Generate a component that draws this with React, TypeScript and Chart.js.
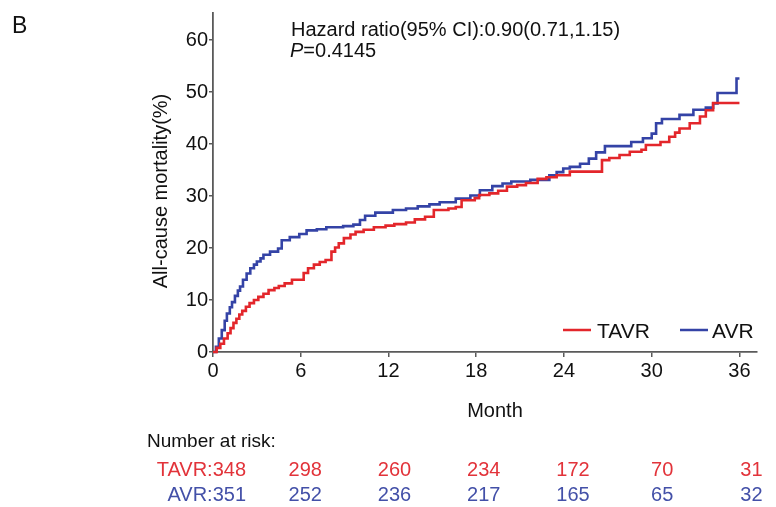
import React, { useEffect, useRef } from "react";
import { Chart, registerables } from "chart.js";

Chart.register(...registerables);

const FONT = '"Liberation Sans", Arial, Helvetica, sans-serif';

const seriesNames = ["TAVR", "AVR"];
const seriesColors = ["#e3262b", "#3443a6"];

const tavrMonths = [0, 0.25, 0.5, 0.75, 1.0, 1.2, 1.4, 1.6, 1.8, 2.0, 2.25, 2.5, 2.8, 3.1, 3.45, 3.8, 4.2, 4.5, 4.9, 5.4, 6.2, 6.5, 6.9, 7.3, 7.7, 8.1, 8.35, 8.6, 8.95, 9.4, 9.75, 10.3, 11.0, 11.8, 12.4, 13.2, 13.8, 14.5, 15.1, 16.1, 16.6, 17.0, 17.9, 18.2, 18.9, 19.5, 20.1, 20.8, 21.4, 22.2, 22.8, 23.5, 24.4, 26.6, 27.1, 27.8, 28.5, 29.3, 29.6, 30.6, 31.2, 31.6, 31.9, 32.6, 33.3, 33.7, 34.2, 36.0];
const tavrValues = [0, 0.8, 1.6, 2.6, 3.6, 4.6, 5.6, 6.4, 7.2, 7.9, 8.7, 9.4, 10.0, 10.6, 11.2, 11.9, 12.3, 12.7, 13.2, 13.9, 15.2, 16.1, 16.8, 17.3, 17.7, 19.3, 20.1, 20.9, 21.9, 22.6, 23.1, 23.5, 24.0, 24.3, 24.6, 24.9, 25.5, 26.0, 27.3, 27.6, 27.9, 29.2, 29.6, 30.2, 30.5, 31.0, 31.8, 32.1, 32.5, 33.3, 33.6, 34.0, 34.7, 36.9, 37.3, 37.9, 38.5, 38.9, 39.8, 40.4, 41.4, 42.2, 43.0, 44.0, 45.3, 46.5, 47.9, 47.9];

const avrMonths = [0, 0.2, 0.4, 0.6, 0.8, 0.95, 1.15, 1.3, 1.5, 1.7, 1.85, 2.05, 2.3, 2.55, 2.8, 3.0, 3.25, 3.45, 3.9, 4.45, 4.7, 5.25, 5.9, 6.4, 7.1, 7.75, 8.9, 9.6, 10.05, 10.4, 11.1, 12.3, 13.2, 14.0, 14.8, 15.5, 16.6, 17.6, 18.25, 19.1, 19.8, 20.4, 21.7, 23.0, 23.5, 23.95, 24.4, 25.1, 25.7, 26.2, 26.8, 28.6, 29.4, 30.0, 30.3, 30.7, 31.9, 32.85, 33.7, 34.2, 34.5, 35.8, 36.0];
const avrValues = [0, 1.0, 2.6, 4.2, 6.0, 7.4, 8.6, 9.6, 10.8, 11.8, 12.6, 13.9, 15.1, 16.1, 16.8, 17.4, 18.0, 18.7, 19.3, 19.9, 21.5, 22.1, 22.7, 23.4, 23.6, 24.0, 24.2, 24.5, 25.4, 26.2, 26.8, 27.3, 27.6, 28.0, 28.4, 28.8, 29.5, 30.1, 31.1, 31.9, 32.4, 32.8, 33.1, 34.0, 34.6, 35.3, 35.6, 36.2, 37.2, 38.4, 39.6, 40.4, 41.1, 42.0, 44.0, 44.8, 45.6, 46.6, 47.0, 47.8, 49.8, 52.6, 52.6];

const xTicks = [0, 6, 12, 18, 24, 30, 36];
const yTicks = [0, 10, 20, 30, 40, 50, 60];

const riskMonths = [0, 6, 12, 18, 24, 30, 36];
const tavrAtRisk = [348, 298, 260, 234, 172, 70, 31];
const avrAtRisk = [351, 252, 236, 217, 165, 65, 32];

const panelLabel = "B";
const hazardText = "Hazard ratio(95% CI):0.90(0.71,1.15)";
const pValueText = "=0.4145";
const xTitle = "Month";
const yTitle = "All-cause mortality(%)";
const riskTitle = "Number at risk:";

export default function App() {
  const ref = useRef<HTMLCanvasElement>(null);

  useEffect(() => {
    document.body.style.margin = "0";
    const canvas = ref.current;
    if (!canvas) return;

    const toPts = (ms: number[], vs: number[]) => ms.map((m, i) => ({ x: m, y: vs[i] }));

    const overlay = {
      id: "overlay",
      afterDraw(chart: any) {
        const ctx = chart.ctx as CanvasRenderingContext2D;
        const xs = chart.scales.x;
        ctx.save();
        ctx.fillStyle = "#111";
        ctx.textBaseline = "alphabetic";
        ctx.textAlign = "left";
        ctx.font = `23px ${FONT}`;
        ctx.fillText(panelLabel, 12, 33);

        ctx.font = `20px ${FONT}`;
        ctx.fillText(hazardText, 291, 36);
        ctx.font = `italic 20px ${FONT}`;
        ctx.fillText("P", 290, 57);
        const pw = ctx.measureText("P").width;
        ctx.font = `20px ${FONT}`;
        ctx.fillText(pValueText, 290 + pw, 57);

        // y title
        ctx.save();
        ctx.translate(161, 191);
        ctx.rotate(-Math.PI / 2);
        ctx.textAlign = "center";
        ctx.textBaseline = "middle";
        ctx.fillText(yTitle, 0, 0);
        ctx.restore();

        // x title
        ctx.textAlign = "center";
        ctx.fillText(xTitle, 495, 417);

        // legend
        const legendItems = [
          { lx: 563, tx: 597 },
          { lx: 680, tx: 712 },
        ];
        legendItems.forEach((it, i) => {
          ctx.strokeStyle = seriesColors[i];
          ctx.lineWidth = 2.5;
          ctx.beginPath();
          ctx.moveTo(it.lx, 330);
          ctx.lineTo(it.lx + 28, 330);
          ctx.stroke();
          ctx.fillStyle = "#111";
          ctx.textAlign = "left";
          ctx.font = `21px ${FONT}`;
          ctx.fillText(seriesNames[i], it.tx, 338);
        });

        // number at risk
        ctx.font = `19px ${FONT}`;
        ctx.fillStyle = "#111";
        ctx.textAlign = "left";
        ctx.fillText(riskTitle, 147, 447);
        const rows = [
          { vals: tavrAtRisk, color: "#e2333a", y: 476 },
          { vals: avrAtRisk, color: "#4350a8", y: 501 },
        ];
        ctx.font = `20px ${FONT}`;
        rows.forEach((r, ri) => {
          ctx.fillStyle = r.color;
          riskMonths.forEach((m, i) => {
            if (i === 0) {
              ctx.textAlign = "right";
              ctx.fillText(`${seriesNames[ri]}:${r.vals[i]}`, 246, r.y);
            } else {
              ctx.textAlign = "center";
              const px = xs.getPixelForValue(m) + 3 + m * 0.25;
              ctx.fillText(String(r.vals[i]), px, r.y);
            }
          });
        });
        ctx.restore();
      },
    };

    const chart = new Chart(canvas, {
      type: "line",
      data: {
        datasets: [
          {
            label: seriesNames[0],
            data: toPts(tavrMonths, tavrValues),
            borderColor: seriesColors[0],
            backgroundColor: seriesColors[0],
            borderWidth: 2.6,
            pointRadius: 0,
            stepped: true,
            fill: false,
            clip: 5,
          },
          {
            label: seriesNames[1],
            data: toPts(avrMonths, avrValues),
            borderColor: seriesColors[1],
            backgroundColor: seriesColors[1],
            borderWidth: 2.6,
            pointRadius: 0,
            stepped: true,
            fill: false,
            clip: 5,
          },
        ],
      },
      options: {
        animation: false,
        responsive: true,
        maintainAspectRatio: false,
        layout: { padding: { left: 0, top: 13, right: 19, bottom: 0 } },
        plugins: { legend: { display: false }, tooltip: { enabled: false } },
        scales: {
          x: {
            type: "linear",
            min: 0,
            max: 37.2,
            afterBuildTicks: (s: any) => {
              s.ticks = xTicks.map((v) => ({ value: v }));
            },
            afterFit: (s: any) => {
              s.height = 155;
            },
            grid: { display: true, drawOnChartArea: false, drawTicks: true, tickLength: 5, color: "#5a5a5a", lineWidth: 1.5 },
            border: { display: true, color: "#5a5a5a", width: 1.8 },
            ticks: { color: "#111", font: { family: FONT, size: 20 }, padding: 2, maxRotation: 0, autoSkip: false },
          },
          y: {
            type: "linear",
            min: 0,
            max: 65.2,
            afterBuildTicks: (s: any) => {
              s.ticks = yTicks.map((v) => ({ value: v }));
            },
            afterFit: (s: any) => {
              s.width = 213;
            },
            grid: { display: true, drawOnChartArea: false, drawTicks: true, tickLength: 4, color: "#5a5a5a", lineWidth: 1.5 },
            border: { display: true, color: "#5a5a5a", width: 1.8 },
            ticks: { color: "#111", font: { family: FONT, size: 20 }, padding: 1, autoSkip: false },
          },
        },
      },
      plugins: [overlay],
    });

    return () => chart.destroy();
  }, []);

  return (
    <div style={{ width: 776, height: 507, position: "relative", background: "#fff" }}>
      <canvas ref={ref} />
    </div>
  );
}
